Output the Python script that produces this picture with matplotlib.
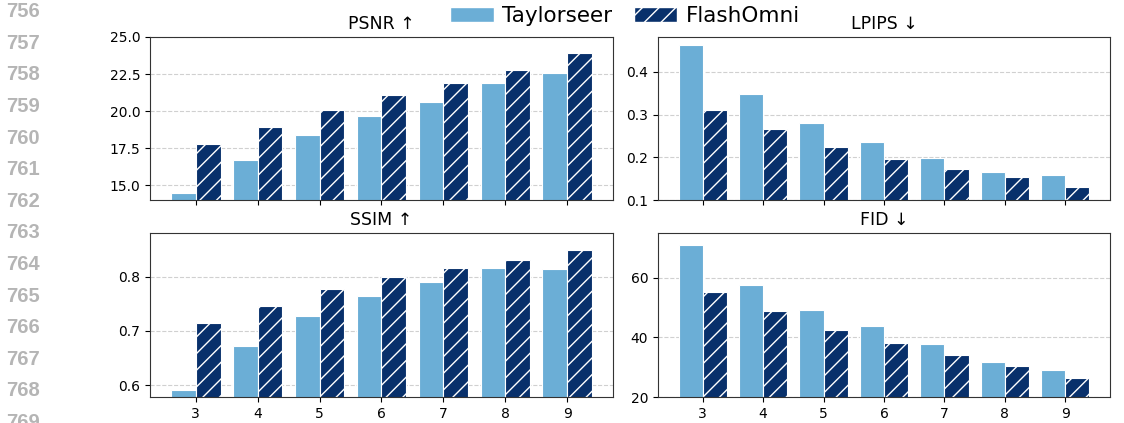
import matplotlib.pyplot as plt
import matplotlib.patches as mpatches
import numpy as np

# speedup steps on the x axis
steps = [3, 4, 5, 6, 7, 8, 9]

psnr_taylor = [14.5, 16.7, 18.4, 19.7, 20.6, 21.9, 22.6]
psnr_flash = [17.8, 18.9, 20.1, 21.1, 21.9, 22.8, 23.9]

lpips_taylor = [0.464, 0.349, 0.280, 0.236, 0.198, 0.166, 0.159]
lpips_flash = [0.310, 0.266, 0.224, 0.195, 0.172, 0.155, 0.131]

ssim_taylor = [0.591, 0.672, 0.727, 0.764, 0.790, 0.817, 0.815]
ssim_flash = [0.714, 0.746, 0.777, 0.800, 0.817, 0.831, 0.850]

fid_taylor = [71.1, 57.6, 49.2, 43.9, 37.9, 31.8, 29.1]
fid_flash = [55.1, 49.0, 42.5, 38.1, 34.2, 30.4, 26.5]

line_numbers = list(range(756, 770))

c_taylor = "#6baed6"
c_flash = "#08306b"

W, H = 1124, 423
fig = plt.figure(figsize=(W / 100, H / 100), dpi=100)


def px_axes(x0, x1, y0, y1):
    return fig.add_axes([x0 / W, 1 - y1 / H, (x1 - x0) / W, (y1 - y0) / H])


panels = [
    ("PSNR ↑", psnr_taylor, psnr_flash, (14, 25), [15.0, 17.5, 20.0, 22.5, 25.0], "{:.1f}", (150, 613, 37, 200), False),
    ("LPIPS ↓", lpips_taylor, lpips_flash, (0.1, 0.482), [0.1, 0.2, 0.3, 0.4], "{:.1f}", (658, 1110, 37, 200), False),
    ("SSIM ↑", ssim_taylor, ssim_flash, (0.578, 0.881), [0.6, 0.7, 0.8], "{:.1f}", (150, 613, 233, 397), True),
    ("FID ↓", fid_taylor, fid_flash, (20, 75), [20, 40, 60], "{:.0f}", (658, 1110, 233, 397), True),
]

x = np.array(steps)
w = 0.4
for title, tay, fla, ylim, yticks, fmt, box, show_x in panels:
    ax = px_axes(*box)
    ax.bar(x - w / 2, tay, w, color=c_taylor, edgecolor="white", linewidth=0.8)
    ax.bar(x + w / 2, fla, w, color=c_flash, edgecolor="white", linewidth=0.8, hatch="//")
    ax.set_ylim(*ylim)
    ax.set_yticks(yticks)
    ax.set_yticklabels([fmt.format(v) for v in yticks])
    ax.set_xticks(steps)
    if not show_x:
        ax.set_xticklabels([])
    ax.tick_params(labelsize=10)
    ax.grid(axis="y", linestyle="--", color="#d0d0d0", linewidth=0.8)
    ax.set_axisbelow(True)
    for s in ax.spines.values():
        s.set_color("#333333")
    ax.set_title(title, fontsize=12.5, pad=6)

handles = [
    mpatches.Patch(facecolor=c_taylor, edgecolor="white", label="Taylorseer"),
    mpatches.Patch(facecolor=c_flash, edgecolor="white", hatch="//", label="FlashOmni"),
]
fig.legend(handles=handles, loc="upper center", bbox_to_anchor=(625 / W, 1.006),
           ncol=2, frameon=False, fontsize=15.5, borderaxespad=0,
           columnspacing=1.0, handletextpad=0.4)

# page line numbers down the left margin
for i, n in enumerate(line_numbers):
    fig.text(6 / W, 1 - (11.7 + 31.6 * i) / H, str(n), ha="left", va="center",
             fontsize=14.5, fontweight="bold", color="#b5b5b5", family="Liberation Sans")

fig.savefig("out.png", dpi=100)
